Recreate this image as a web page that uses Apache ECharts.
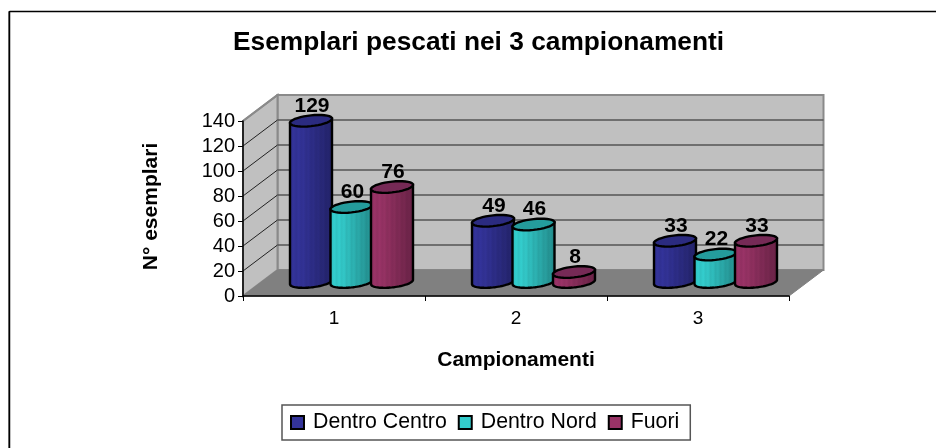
<!DOCTYPE html>
<html>
<head>
<meta charset="utf-8">
<style>html,body{margin:0;padding:0;background:#fff}#c{width:936px;height:448px}</style>
<script src="https://cdn.jsdelivr.net/npm/echarts@6/dist/echarts.min.js"></script>
</head>
<body>
<div id="c"></div>
<script>
const categories = ['1', '2', '3'];
const dentroCentro = [129, 49, 33];
const dentroNord = [60, 46, 22];
const fuori = [76, 8, 33];
const yTicks = [20, 40, 60, 80, 100, 120, 140];
const seriesNames = ['Dentro Centro', 'Dentro Nord', 'Fuori'];
const bodyColors = ['#333399', '#33CCCC', '#993366'];
const capColors = ['#2B2B80', '#249C9C', '#762A56'];
const FONT = '"Liberation Sans", Arial, sans-serif';

const DX = 34.5, DY = -26;        // depth of the pseudo-3D box
const BASE_LIFT = 14;             // cylinders stand in the middle of the floor
const SHIFT_X = 17.5;             // ... and shifted along the depth
const PITCH = 40.5, RX = 21, RY = 5.4, TILT = 2.2;

function shade(hex, f) {
  const n = parseInt(hex.slice(1), 16);
  const c = [n >> 16, (n >> 8) & 255, n & 255].map(v => Math.max(0, Math.min(255, Math.round(v * f))));
  return 'rgb(' + c.join(',') + ')';
}
function stripes(hex) {
  const stops = [], N = 18;
  for (let i = 0; i <= N; i++) {
    const t = i / N;
    const base = t < 0.25 ? 0.98 : 0.98 - (t - 0.25) * 0.42;
    stops.push({ offset: t, color: shade(hex, base * (i % 2 ? 0.97 : 1.03)) });
  }
  return { type: 'linear', x: 0, y: 0, x2: 1, y2: 0, colorStops: stops };
}
function ell(cx, cy, from, to) {
  const pts = [], N = 36;
  for (let i = 0; i <= N; i++) {
    const a = from + (to - from) * i / N;
    pts.push([cx + RX * Math.cos(a), cy + RY * Math.sin(a) - TILT * Math.cos(a)]);
  }
  return pts;
}
function cylinderSeries(name, values, idx) {
  return {
    name: name,
    type: 'custom',
    coordinateSystem: 'cartesian2d',
    z: 4 + idx,
    itemStyle: { color: bodyColors[idx], borderColor: '#000', borderWidth: 2 },
    encode: { x: 0, y: 1 },
    data: values.map((v, i) => [i, v]),
    renderItem: function (params, api) {
      const base = api.coord([api.value(0), 0]);
      const top = api.coord([api.value(0), api.value(1)]);
      const cx = base[0] + SHIFT_X + (idx - 1) * PITCH;
      const by = base[1] - BASE_LIFT;
      const ty = top[1] - BASE_LIFT;
      const lower = ell(cx, by, 0, Math.PI);
      const body = [[cx + RX, ty - TILT]].concat(lower, [[cx - RX, ty + TILT]]);
      return {
        type: 'group',
        children: [
          { type: 'polygon', shape: { points: body },
            style: { fill: stripes(bodyColors[idx]), stroke: '#000', lineWidth: 2.4 } },
          { type: 'polygon', shape: { points: ell(cx, ty, 0, Math.PI * 2) },
            style: { fill: capColors[idx], stroke: '#000', lineWidth: 2.4 } },
          { type: 'text', z2: 50, x: cx + 1, y: ty - 15,
            style: { text: String(api.value(1)), font: 'bold 21px ' + FONT, fill: '#000',
                     textAlign: 'center', textVerticalAlign: 'middle' } }
        ]
      };
    }
  };
}
const wallSeries = {
  type: 'custom',
  coordinateSystem: 'cartesian2d',
  z: 1,
  silent: true,
  encode: { y: 0 },
  data: yTicks.map(v => [v]),
  renderItem: function (params, api) {
    const r = params.coordSys;
    const x0 = r.x, x1 = r.x + r.width, y0 = r.y + r.height, yT = r.y;
    const kids = [];
    if (params.dataIndex === 0) {
      kids.push({ type: 'polygon', z2: 1, shape: { points: [[x0 + DX, yT + DY], [x1 + DX, yT + DY], [x1 + DX, y0 + DY], [x0 + DX, y0 + DY]] },
        style: { fill: '#C0C0C0', stroke: '#8A8A8A', lineWidth: 2 } });
      kids.push({ type: 'polygon', z2: 1, shape: { points: [[x0, yT], [x0 + DX, yT + DY], [x0 + DX, y0 + DY], [x0, y0]] },
        style: { fill: '#C0C0C0', stroke: '#8A8A8A', lineWidth: 2 } });
      kids.push({ type: 'polygon', z2: 3, shape: { points: [[x0, y0], [x1, y0], [x1 + DX, y0 + DY], [x0 + DX, y0 + DY]] },
        style: { fill: '#808080', stroke: '#808080', lineWidth: 1 } });
    }
    const y = api.coord([0, api.value(0)])[1];
    kids.push({ type: 'line', z2: 2, shape: { x1: x0, y1: y, x2: x0 + DX, y2: y + DY },
      style: { stroke: yTicksIsTop(api.value(0)) ? '#8A8A8A' : '#222', lineWidth: yTicksIsTop(api.value(0)) ? 2 : 1 } });
    if (!yTicksIsTop(api.value(0))) {
      kids.push({ type: 'line', z2: 2, shape: { x1: x0 + DX, y1: y + DY, x2: x1 + DX, y2: y + DY },
        style: { stroke: '#555', lineWidth: 1.5 } });
    }
    return { type: 'group', children: kids };
  }
};
function yTicksIsTop(v) { return v === yTicks[yTicks.length - 1]; }

const chart = echarts.init(document.getElementById('c'), null, { renderer: 'canvas' });
chart.setOption({
  animation: false,
  backgroundColor: '#fff',
  textStyle: { fontFamily: FONT },
  title: {
    text: 'Esemplari pescati nei 3 campionamenti',
    left: 473.5, top: 25, textAlign: 'center',
    textStyle: { fontFamily: FONT, fontWeight: 'bold', fontSize: 26.3, color: '#000' }
  },
  grid: { left: 243, right: 147, top: 121, bottom: 152, containLabel: false },
  xAxis: {
    type: 'category',
    data: categories,
    z: 8,
    axisLine: { lineStyle: { color: '#000', width: 1.5 } },
    axisTick: { show: true, length: 5, lineStyle: { color: '#000', width: 1 } },
    axisLabel: { fontFamily: FONT, fontSize: 19, color: '#000', margin: 13 },
    name: 'Campionamenti',
    nameLocation: 'middle',
    nameGap: 54,
    nameTextStyle: { fontFamily: FONT, fontWeight: 'bold', fontSize: 21, color: '#000' }
  },
  yAxis: {
    type: 'value',
    min: 0, max: 140, interval: 20,
    z: 8,
    axisLine: { show: true, lineStyle: { color: '#000', width: 1.5 } },
    axisTick: { show: true, length: 5, lineStyle: { color: '#000', width: 1 } },
    axisLabel: { fontFamily: FONT, fontSize: 20, color: '#000', margin: 8 },
    splitLine: { show: false },
    name: 'N° esemplari',
    nameLocation: 'middle',
    nameGap: 81,
    nameRotate: 90,
    nameTextStyle: { fontFamily: FONT, fontWeight: 'bold', fontSize: 21, color: '#000', padding: [0, 0, 0, 4] }
  },
  legend: {
    data: seriesNames,
    left: 282, top: 405,
    orient: 'horizontal',
    backgroundColor: '#fff',
    borderColor: '#555', borderWidth: 1.5, borderRadius: 0,
    padding: [7, 11, 7, 8],
    itemWidth: 13, itemHeight: 13, itemGap: 11,
    icon: 'rect',
    itemStyle: { borderColor: '#000', borderWidth: 2 },
    textStyle: { fontFamily: FONT, fontSize: 21.3, color: '#000', padding: [0, 0, 0, 4] },
    selectedMode: false
  },
  graphic: [
    { type: 'line', shape: { x1: 8.5, y1: 11.5, x2: 8.5, y2: 448 }, style: { stroke: '#808080', lineWidth: 1 }, silent: true },
    { type: 'line', shape: { x1: 9.5, y1: 11.5, x2: 936, y2: 11.5 }, style: { stroke: '#000', lineWidth: 1.5 }, silent: true },
    { type: 'line', shape: { x1: 9.5, y1: 11, x2: 9.5, y2: 448 }, style: { stroke: '#000', lineWidth: 1.5 }, silent: true }
  ],
  series: [wallSeries,
    cylinderSeries(seriesNames[0], dentroCentro, 0),
    cylinderSeries(seriesNames[1], dentroNord, 1),
    cylinderSeries(seriesNames[2], fuori, 2)]
});
</script>
</body>
</html>
